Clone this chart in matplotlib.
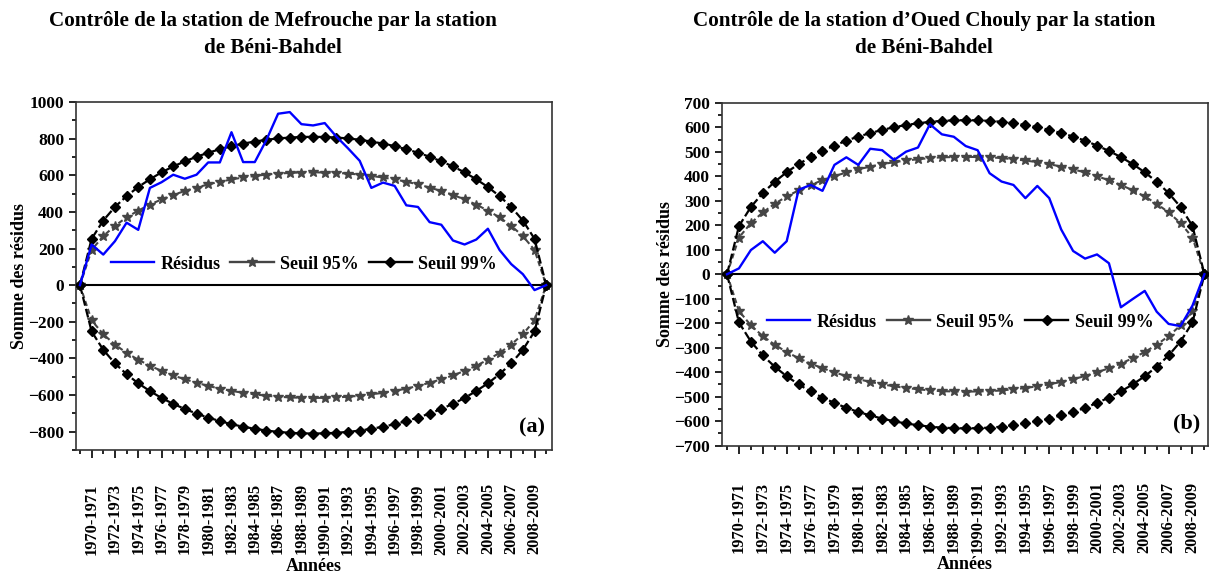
import matplotlib
matplotlib.use("Agg")
import matplotlib.pyplot as plt
from matplotlib.lines import Line2D
from matplotlib.ticker import MultipleLocator

plt.rcParams['font.family'] = ['Liberation Serif', 'DejaVu Serif']
plt.rcParams['font.weight'] = 'bold'

# ---------------- data ----------------
years = [f"{y}-{y + 1}" for y in range(1969, 2010)]  # 41 categories (first = origin point)

residus_a = [0, 222, 167, 240, 341, 302, 531, 562, 603, 581, 603, 670, 670, 835, 672, 672,
             793, 936, 945, 879, 872, 885, 811, 747, 679, 531, 560, 542, 436, 427, 344, 330,
             244, 222, 249, 308, 192, 115, 60, -27, 0]
seuil95_a_up = [0, 192, 268, 324, 370, 407, 440, 468, 493, 514, 533, 550, 565, 577, 588, 596,
                604, 609, 613, 615, 616, 615, 613, 609, 604, 596, 588, 577, 565, 550, 533, 514,
                493, 468, 440, 407, 370, 324, 268, 192, 0]
seuil95_a_low = [0, -192, -268, -324, -370, -407, -440, -468, -493, -514, -533, -550, -565, -577,
                 -588, -596, -604, -609, -613, -615, -616, -615, -613, -609, -604, -596, -588,
                 -577, -565, -550, -533, -514, -493, -468, -440, -407, -370, -324, -268, -192, 0]
seuil99_a_up = [0, 253, 353, 427, 486, 536, 578, 616, 648, 676, 701, 723, 742, 759, 773, 784,
                794, 801, 806, 809, 810, 809, 806, 801, 794, 784, 773, 759, 742, 723, 701, 676,
                648, 616, 578, 536, 486, 427, 353, 253, 0]
seuil99_a_low = [0, -253, -353, -427, -486, -536, -578, -616, -648, -676, -701, -723, -742, -759,
                 -773, -784, -794, -801, -806, -809, -810, -809, -806, -801, -794, -784, -773,
                 -759, -742, -723, -701, -676, -648, -616, -578, -536, -486, -427, -353, -253, 0]

residus_b = [0, 24, 99, 135, 88, 135, 345, 365, 341, 447, 478, 447, 513, 507, 467, 501, 518,
             613, 572, 562, 524, 507, 413, 379, 365, 311, 361, 311, 183, 95, 64, 81, 45, -135,
             -101, -68, -153, -203, -212, -128, 0]
seuil95_b_up = [0, 150, 209, 253, 288, 318, 343, 365, 384, 401, 416, 429, 440, 450, 458, 465,
                470, 475, 478, 479, 480, 479, 478, 475, 470, 465, 458, 450, 440, 429, 416, 401,
                384, 365, 343, 318, 288, 253, 209, 150, 0]
seuil95_b_low = [0, -150, -209, -253, -288, -318, -343, -365, -384, -401, -416, -429, -440, -450,
                 -458, -465, -470, -475, -478, -479, -480, -479, -478, -475, -470, -465, -458,
                 -450, -440, -429, -416, -401, -384, -365, -343, -318, -288, -253, -209, -150, 0]
seuil99_b_up = [0, 197, 275, 332, 378, 417, 450, 479, 504, 526, 546, 563, 577, 590, 601, 610,
                617, 623, 627, 629, 630, 629, 627, 623, 617, 610, 601, 590, 577, 563, 546, 526,
                504, 479, 450, 417, 378, 332, 275, 197, 0]
seuil99_b_low = [0, -197, -275, -332, -378, -417, -450, -479, -504, -526, -546, -563, -577, -590,
                 -601, -610, -617, -623, -627, -629, -630, -629, -627, -623, -617, -610, -601,
                 -590, -577, -563, -546, -526, -504, -479, -450, -417, -378, -332, -275, -197, 0]

titles = ["Contrôle de la station de Mefrouche par la station\nde Béni-Bahdel",
          "Contrôle de la station d\u2019Oued Chouly par la station\nde Béni-Bahdel"]
panel_tags = ["(a)", "(b)"]
legend_labels = ["Résidus", "Seuil 95%", "Seuil 99%"]

# ---------------- figure ----------------
W, H = 1214, 575
fig = plt.figure(figsize=(W / 100, H / 100), dpi=100)


def px_axes(l, t, r, b):
    return fig.add_axes([l / W, 1 - b / H, (r - l) / W, (b - t) / H])


BLUE = "#0000FF"
GREY = "#454545"

configs = [
    dict(box=(76, 102, 552, 450), xlim=(-0.34, 40.5), ylim=(-900, 1000), major=200, minor=100,
         res=residus_a, s95u=seuil95_a_up, s95l=seuil95_a_low, s99u=seuil99_a_up, s99l=seuil99_a_low,
         title_x=273, leg=(0.479, 0.534), xpad=18),
    dict(box=(722, 103, 1208, 445.5), xlim=(-0.42, 40.3), ylim=(-700, 700), major=100, minor=50,
         res=residus_b, s95u=seuil95_b_up, s95l=seuil95_b_low, s99u=seuil99_b_up, s99l=seuil99_b_low,
         title_x=924, leg=(0.49, 0.36), xpad=20),
]

x = list(range(len(years)))

for i, c in enumerate(configs):
    ax = px_axes(*c["box"])
    ax.axhline(0, color="black", lw=1.5, zorder=1)
    for key in ("s95u", "s95l"):
        ax.plot(x, c[key], color=GREY, ls=(0, (2.5, 1.5)), lw=1.5, marker="*", ms=7,
                mfc=GREY, mec=GREY, zorder=2)
    for key in ("s99u", "s99l"):
        ax.plot(x, c[key], color="black", ls=(0, (4, 1.5)), lw=1.6, marker="D", ms=5.3,
                mfc="black", mec="black", zorder=3)
    ax.plot(x, c["res"], color=BLUE, lw=1.7, zorder=4)

    ax.set_xlim(*c["xlim"])
    ax.set_ylim(*c["ylim"])
    ax.yaxis.set_major_locator(MultipleLocator(c["major"]))
    ax.yaxis.set_minor_locator(MultipleLocator(c["minor"]))
    major_x = [k for k in x if k % 2 == 1]
    minor_x = [k for k in x if k % 2 == 0]
    ax.set_xticks(major_x)
    ax.set_xticklabels([years[k] for k in major_x], rotation=90, fontsize=11.8, fontweight="bold")
    ax.set_xticks(minor_x, minor=True)
    ax.tick_params(axis="x", which="major", length=6, width=1.2, direction="out", pad=c["xpad"])
    ax.tick_params(axis="x", which="minor", length=3, width=1.2, direction="out")
    ax.tick_params(axis="y", which="major", length=5, width=1.2, direction="out", labelsize=12.5)
    ax.tick_params(axis="y", which="minor", length=3, width=1.2, direction="out")
    for lab in ax.get_yticklabels():
        lab.set_fontweight("bold")
    for s in ax.spines.values():
        s.set_linewidth(1.2)
        s.set_color("#333333")

    ax.set_ylabel("Somme des résidus", fontsize=13, fontweight="bold", labelpad=0)
    ax.set_xlabel("Années", fontsize=13, fontweight="bold", labelpad=2)

    ax.text(0.985, 0.035, panel_tags[i], transform=ax.transAxes, ha="right", va="bottom",
            fontsize=16, fontweight="bold")

    handles = [Line2D([], [], color=BLUE, lw=1.7),
               Line2D([], [], color=GREY, lw=1.7, marker="*", ms=7),
               Line2D([], [], color="black", lw=1.7, marker="D", ms=5)]
    ax.legend(handles, legend_labels, loc="center", bbox_to_anchor=c["leg"], ncol=3,
              frameon=False, prop=dict(size=13, weight="bold"), handlelength=2.4,
              columnspacing=0.55, handletextpad=0.35)

    fig.text(c["title_x"] / W, 1 - 34.5 / H, titles[i], ha="center", va="center",
             fontsize=15.2, fontweight="bold", linespacing=1.5)

fig.savefig("out.png", dpi=100)
